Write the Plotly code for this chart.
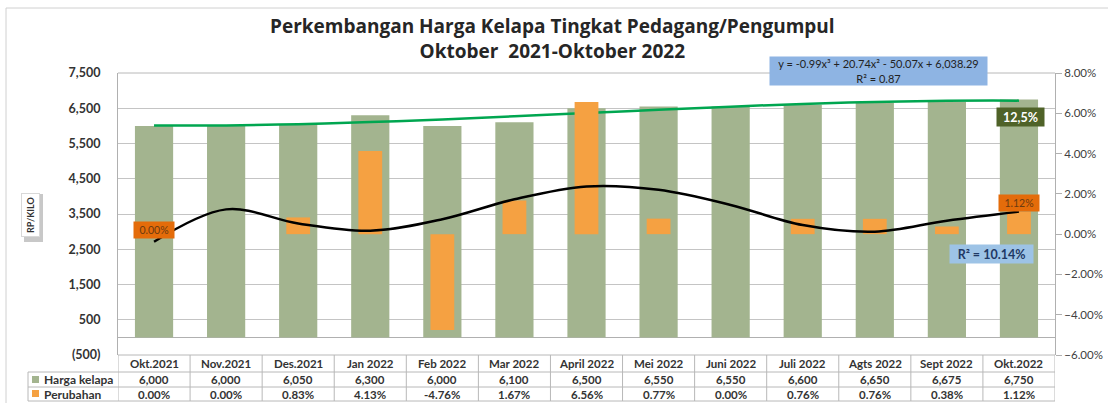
import numpy as np
import plotly.graph_objects as go

# data
bulan = ["Okt.2021", "Nov.2021", "Des.2021", "Jan 2022", "Feb 2022", "Mar 2022", "April 2022",
         "Mei 2022", "Juni 2022", "Juli 2022", "Agts 2022", "Sept 2022", "Okt.2022"]
harga_kelapa = [6000, 6000, 6050, 6300, 6000, 6100, 6500, 6550, 6550, 6600, 6650, 6675, 6750]
perubahan = [0.00, 0.00, 0.83, 4.13, -4.76, 1.67, 6.56, 0.77, 0.00, 0.76, 0.76, 0.38, 1.12]
tren_perubahan = [-0.38, 1.23, 0.53, 0.17, 0.74, 1.73, 2.37, 2.2, 1.45, 0.45, 0.12, 0.67, 1.12]

y_ticks = [-500, 500, 1500, 2500, 3500, 4500, 5500, 6500, 7500]
y_ticktext = ["(500)", "500", "1,500", "2,500", "3,500", "4,500", "5,500", "6,500", "7,500"]
y2_ticks = [-0.06, -0.04, -0.02, 0, 0.02, 0.04, 0.06, 0.08]

W, H = 1108, 403
FONT = "Lato"
TXT = "#333333"


def px(x):
    return x / W


def py(y):
    return 1 - y / H


# cubic trend of harga (same as excel trendline)
xs = np.arange(1, len(harga_kelapa) + 1)
coef = np.polyfit(xs, harga_kelapa, 3)
tren_harga = np.polyval(coef, xs)

fig = go.Figure()
fig.add_trace(go.Bar(x=bulan, y=harga_kelapa, name="Harga kelapa", marker=dict(color="#A3B48F", line_width=0),
                     width=0.53, yaxis="y"))
fig.add_trace(go.Bar(x=bulan, y=[p / 100 for p in perubahan], name="Perubahan",
                     marker=dict(color="#F5A142", line_width=0), width=0.33, yaxis="y2"))
fig.add_trace(go.Scatter(x=bulan, y=tren_harga, mode="lines", line=dict(color="#00A650", width=2.5, shape="spline"),
                         yaxis="y", showlegend=False))
fig.add_trace(go.Scatter(x=bulan, y=[t / 100 for t in tren_perubahan], mode="lines",
                         line=dict(color="#000000", width=2.5, shape="spline", smoothing=1.0),
                         yaxis="y2", showlegend=False))

x0, x1 = px(118), px(1055)
ytop, ybot = py(73), py(355)

fig.update_layout(
    width=W, height=H, margin=dict(l=0, r=0, t=0, b=0, autoexpand=False),
    paper_bgcolor="white", plot_bgcolor="white",
    barmode="overlay", showlegend=False,
    font=dict(family=FONT, color=TXT),
    xaxis=dict(domain=[x0, x1], range=[-0.5, 12.5], showticklabels=False, ticks="", automargin=False,
               showgrid=False, showline=False, zeroline=False),
    yaxis=dict(domain=[ybot, ytop], range=[-500, 7500], tickvals=y_ticks, ticktext=y_ticktext,
               tickfont=dict(size=12.5, weight="bold", color=TXT), ticks="", ticklabelstandoff=14,
               automargin=False,
               showgrid=True, gridcolor="#C4C4C4", gridwidth=1,
               zeroline=True, zerolinecolor="#B0B0B0", zerolinewidth=1,
               showline=True, linecolor="#B0B0B0", linewidth=1),
    yaxis2=dict(overlaying="y", side="right", range=[-0.06, 0.08], tickvals=y2_ticks, tickformat=".2%",
                tickfont=dict(size=11.5, color="#404040"), ticks="outside", ticklen=6, tickcolor="#B0B0B0",
                automargin=False,
                showgrid=False, zeroline=False, showline=True, linecolor="#B0B0B0", linewidth=1),
)

shapes = []
line_col = "#B8B8B8"
# outer chart border
shapes.append(dict(type="line", xref="paper", yref="paper", x0=px(6), x1=1, y0=py(8), y1=py(8),
                   line=dict(color="#D0D0D0", width=1)))
shapes.append(dict(type="line", xref="paper", yref="paper", x0=px(6), x1=px(6), y0=py(8), y1=0,
                   line=dict(color="#D0D0D0", width=1)))
# plot top border
shapes.append(dict(type="line", xref="paper", yref="paper", x0=x0, x1=x1, y0=ytop, y1=ytop,
                   line=dict(color=line_col, width=1)))
# data table
for yy, xl in [(355, 118), (372, 28), (387, 28), (401, 28)]:
    shapes.append(dict(type="line", xref="paper", yref="paper", x0=px(xl), x1=x1, y0=py(yy), y1=py(yy),
                       line=dict(color=line_col, width=1)))
shapes.append(dict(type="line", xref="paper", yref="paper", x0=px(28), x1=px(28), y0=py(372), y1=py(401),
                   line=dict(color=line_col, width=1)))
for i in range(len(bulan) + 1):
    shapes.append(dict(type="line", xref="x", yref="paper", x0=i - 0.5, x1=i - 0.5, y0=py(355), y1=py(401),
                       line=dict(color=line_col, width=1)))
# legend keys
shapes.append(dict(type="rect", xref="paper", yref="paper", x0=px(32), x1=px(39), y0=py(383), y1=py(376),
                   fillcolor="#A3B48F", line=dict(width=0)))
shapes.append(dict(type="rect", xref="paper", yref="paper", x0=px(32), x1=px(39), y0=py(397), y1=py(390),
                   fillcolor="#F5A142", line=dict(width=0)))
# axis title box shadow
shapes.append(dict(type="rect", xref="paper", yref="paper", x0=px(24), x1=px(43), y0=py(242), y1=py(194),
                   fillcolor="#C8C8C8", line=dict(width=0)))
fig.update_layout(shapes=shapes)


def note(**kw):
    kw.setdefault("showarrow", False)
    kw.setdefault("xanchor", "center")
    kw.setdefault("yanchor", "middle")
    return kw


ann = []
ann.append(note(xref="paper", yref="paper", x=px(552), y=py(38),
                text="Perkembangan Harga Kelapa Tingkat Pedagang/Pengumpul<br>Oktober  2021-Oktober 2022",
                font=dict(family="Open Sans", size=19, weight="bold", color="#262626"), align="center"))
for i, b in enumerate(bulan):
    ann.append(note(xref="x", yref="paper", x=b, y=py(363.5), text=b,
                    font=dict(size=11.5, weight="bold", color=TXT)))
    ann.append(note(xref="x", yref="paper", x=b, y=py(379.5), text=f"{harga_kelapa[i]:,}",
                    font=dict(size=11.5, weight="bold", color=TXT)))
    ann.append(note(xref="x", yref="paper", x=b, y=py(394), text=f"{perubahan[i]:.2f}%",
                    font=dict(size=11.5, weight="bold", color=TXT)))
ann.append(note(xref="paper", yref="paper", x=px(42), y=py(379.5), xanchor="left", text="Harga kelapa",
                font=dict(size=12, weight="bold", color=TXT)))
ann.append(note(xref="paper", yref="paper", x=px(42), y=py(394), xanchor="left", text="Perubahan",
                font=dict(size=12, weight="bold", color=TXT)))
# axis title
ann.append(note(xref="paper", yref="paper", x=px(30.5), y=py(215.5), text="RP/KILO", textangle=-90,
                font=dict(size=9, weight="bold", color=TXT), bgcolor="white", bordercolor="#D8D8D8",
                borderwidth=1, borderpad=3))
# trendline equation
ann.append(note(xref="paper", yref="paper", x=px(878.5), y=py(71),
                text="y = -0.99x³ + 20.74x² - 50.07x + 6,038.29<br>R² = 0.87",
                font=dict(size=11, color="#222222"), bgcolor="#8EB4E3", width=213, height=24, borderpad=2))
ann.append(note(xref="paper", yref="paper", x=px(1020.5), y=py(116.5), text="12,5%",
                font=dict(size=12.5, weight="bold", color="white"), bgcolor="#4F6228", width=43, height=14,
                borderpad=2))
ann.append(note(xref="paper", yref="paper", x=px(991.5), y=py(254), text="R² = 10.14%",
                font=dict(size=12.5, weight="bold", color="#1F3864"), bgcolor="#9DC3E6", width=79, height=14,
                borderpad=2))
# data labels on perubahan
ann.append(note(xref="x", yref="y2", x=bulan[0], y=perubahan[0] / 100, yshift=4,
                text=f"{perubahan[0]:.2f}%", font=dict(size=10.5, color="#6B3A10"), bgcolor="#E46C0A",
                width=36, height=12, borderpad=2))
ann.append(note(xref="x", yref="y2", x=bulan[-1], y=perubahan[-1] / 100, yshift=9,
                text=f"{perubahan[-1]:.2f}%", font=dict(size=10.5, color="#6B3A10"), bgcolor="#E46C0A",
                width=36, height=12, borderpad=2))
fig.update_layout(annotations=ann)

fig.write_html("out.html", config={"displayModeBar": False},
               post_script="document.body.style.margin='0';")
